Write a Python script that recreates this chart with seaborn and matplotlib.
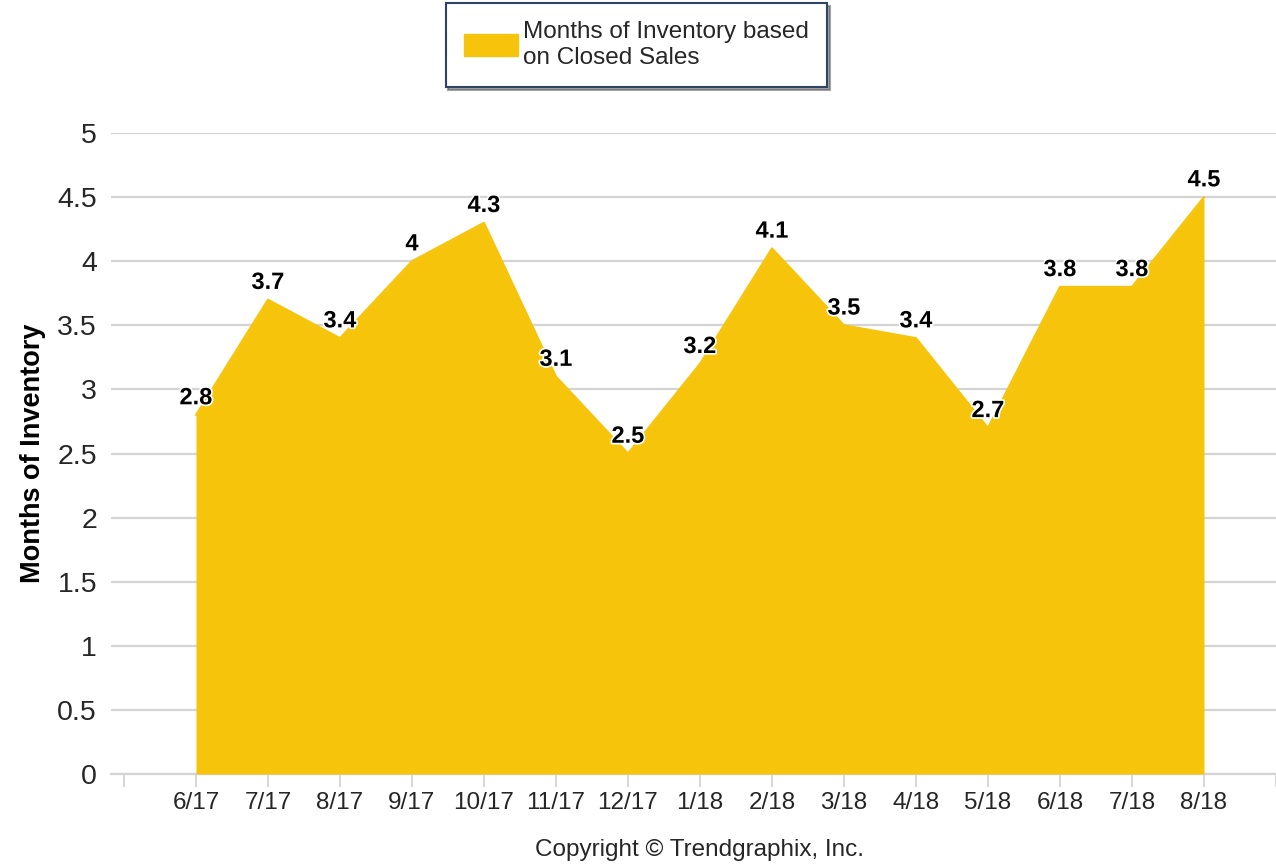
import matplotlib.pyplot as plt
import seaborn as sns
import pandas as pd
from matplotlib.patches import Patch
import matplotlib.patheffects as pe

# ------------------------------------------------------------------
# Data
# ------------------------------------------------------------------

months = ["6/17", "7/17", "8/17", "9/17", "10/17", "11/17", "12/17", "1/18",
          "2/18", "3/18", "4/18", "5/18", "6/18", "7/18", "8/18"]
inventory = [2.8, 3.7, 3.4, 4.0, 4.3, 3.1, 2.5, 3.2, 4.1, 3.5, 3.4, 2.7, 3.8, 3.8, 4.5]
value_labels = ["2.8", "3.7", "3.4", "4", "4.3", "3.1", "2.5", "3.2",
                "4.1", "3.5", "3.4", "2.7", "3.8", "3.8", "4.5"]
y_ticks = [0, 0.5, 1, 1.5, 2, 2.5, 3, 3.5, 4, 4.5, 5]
y_tick_labels = ["0", "0.5", "1", "1.5", "2", "2.5", "3", "3.5", "4", "4.5", "5"]

# ------------------------------------------------------------------
# Style
# ------------------------------------------------------------------

sns.set_theme(style="white")
plt.rcParams["font.family"] = ["Liberation Sans", "DejaVu Sans"]

FILL = "#F6C40B"
GRID = "#D4D4D4"
TEXT = "#262626"

df = pd.DataFrame({"x": range(len(months)), "month": months, "value": inventory})

fig = plt.figure(figsize=(12.76, 8.65), dpi=100)
ax = fig.add_axes([0.087, 0.1052, 0.913, 0.741])

# area
ax.fill_between(df["x"], df["value"], 0, color=FILL, linewidth=0, zorder=2)
sns.lineplot(data=df, x="x", y="value", ax=ax, color=FILL, linewidth=1.5, zorder=3)

# value labels
for i, v in enumerate(inventory):
    ax.text(i, v + 0.045, value_labels[i], ha="center", va="bottom",
            fontsize=17, fontweight="bold", color="black", zorder=5,
            path_effects=[pe.withStroke(linewidth=2.5, foreground="white")])

# axes
ax.set_xlim(-1.18, 15.0)
ax.set_ylim(0, 5)
ax.set_xticks(range(-1, 16))
ax.set_xticklabels([""] + months + [""])
ax.set_yticks(y_ticks)
ax.set_yticklabels(y_tick_labels)

ax.yaxis.grid(True, color=GRID, linewidth=1.6, zorder=0)
ax.set_axisbelow(True)
for side in ["left", "right", "top"]:
    ax.spines[side].set_visible(False)
ax.spines["bottom"].set_color(GRID)
ax.spines["bottom"].set_linewidth(1.6)
ax.spines["bottom"].set_zorder(1)

ax.tick_params(axis="x", which="both", bottom=True, length=9, width=1.3,
               color=GRID, labelsize=17.5, labelcolor=TEXT, pad=4)
ax.tick_params(axis="y", left=False, labelsize=20.5, labelcolor=TEXT, pad=4)

ax.set_xlabel("")
ax.set_ylabel("Months of Inventory", fontsize=19.5, fontweight="bold",
              color="black", labelpad=8)

# legend
handle = Patch(facecolor=FILL, edgecolor=FILL)
leg = fig.legend([handle], ["Months of Inventory based\non Closed Sales"],
                 loc="center", bbox_to_anchor=(0.4988, 0.948),
                 fontsize=17.5, frameon=True, fancybox=False, shadow=True,
                 handlelength=2.25, handleheight=1.05, borderpad=0.75,
                 handletextpad=0.2, labelcolor=TEXT, borderaxespad=0)
leg.get_frame().set_edgecolor("#2E4466")
leg.get_frame().set_linewidth(1.5)

fig.text(0.5485, 1 - 850 / 865, "Copyright \u00a9 Trendgraphix, Inc.", ha="center",
         va="center", fontsize=17.5, color=TEXT)

fig.savefig("out.png", dpi=100)
